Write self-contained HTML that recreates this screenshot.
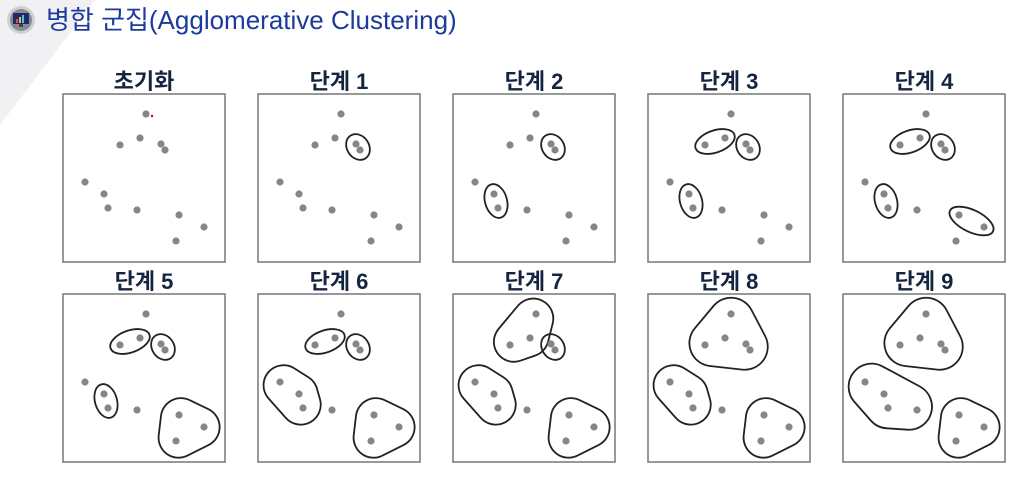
<!DOCTYPE html>
<html><head><meta charset="utf-8">
<style>
html,body{margin:0;padding:0;background:#fff;}
body{width:1016px;height:476px;overflow:hidden;position:relative;font-family:"Liberation Sans","Noto Sans CJK KR",sans-serif;}
</style></head>
<body>
<svg id="chart" width="1016" height="476" viewBox="0 0 1016 476" xmlns="http://www.w3.org/2000/svg">
  <polygon points="0,0 95,0 0,125" fill="#f1f1f3"/>
  <g>
    <circle cx="21" cy="20" r="14" fill="#cfcfd4"/>
    <circle cx="21" cy="20" r="11" fill="#8a8a93"/>
    <rect x="13" y="13" width="16" height="11" fill="#1e2a6a"/>
    <rect x="19" y="24" width="4" height="3" fill="#444"/>
    <rect x="16" y="19" width="2" height="4" fill="#e05050"/>
    <rect x="19" y="17" width="2" height="6" fill="#e0c040"/>
    <rect x="22" y="15" width="2" height="8" fill="#50c0e0"/>
  </g>
  <text x="46" y="29" font-size="26" fill="#1b3a9c" font-family="'Liberation Sans','Noto Sans CJK KR',sans-serif">병합 군집(Agglomerative Clustering)</text>
  <g id="panels"></g>
</svg>
<script>
const titles = ["초기화","단계 1","단계 2","단계 3","단계 4","단계 5","단계 6","단계 7","단계 8","단계 9"];
const pointsX = [83,77,57,98,102,22,41,45,74,116,141,113];
const pointsY = [20,44,51,50,56,88,100,114,116,121,133,147];
const stepClusters = [
  [],
  [[3,4]],
  [[3,4],[6,7]],
  [[3,4],[6,7],[1,2]],
  [[3,4],[6,7],[1,2],[9,10]],
  [[3,4],[6,7],[1,2],[9,10,11]],
  [[3,4],[5,6,7],[1,2],[9,10,11]],
  [[3,4],[5,6,7],[0,1,2],[9,10,11]],
  [[0,1,2,3,4],[5,6,7],[9,10,11]],
  [[0,1,2,3,4],[5,6,7,8],[9,10,11]]
];
const NS="http://www.w3.org/2000/svg";
const PW=162, PH=168, PITCH=195, X0=63, ROW_Y=[94,294];
function hull(pts){
  const p=pts.slice().sort((a,b)=>a[0]-b[0]||a[1]-b[1]);
  if(p.length<3) return p;
  const cr=(o,a,b)=>(a[0]-o[0])*(b[1]-o[1])-(a[1]-o[1])*(b[0]-o[0]);
  const lo=[],up=[];
  for(const q of p){while(lo.length>=2&&cr(lo[lo.length-2],lo[lo.length-1],q)<=0)lo.pop();lo.push(q);}
  for(let i=p.length-1;i>=0;i--){const q=p[i];while(up.length>=2&&cr(up[up.length-2],up[up.length-1],q)<=0)up.pop();up.push(q);}
  up.pop();lo.pop();return lo.concat(up);
}
function blobPath(pts,r){
  let h=hull(pts);
  let area=0;for(let i=0;i<h.length;i++){const a=h[i],b=h[(i+1)%h.length];area+=a[0]*b[1]-b[0]*a[1];}
  if(area<0)h.reverse();
  const n=h.length;const A=[],B=[];
  for(let i=0;i<n;i++){const a=h[i],b=h[(i+1)%n];const dx=b[0]-a[0],dy=b[1]-a[1];const L=Math.hypot(dx,dy)||1;const nx=dy/L,ny=-dx/L;
    A.push([a[0]+r*nx,a[1]+r*ny]);B.push([b[0]+r*nx,b[1]+r*ny]);}
  let d="M"+A[0][0].toFixed(1)+","+A[0][1].toFixed(1);
  for(let i=0;i<n;i++){d+=" L"+B[i][0].toFixed(1)+","+B[i][1].toFixed(1);const nx=A[(i+1)%n];d+=" A"+r+","+r+" 0 0 1 "+nx[0].toFixed(1)+","+nx[1].toFixed(1);}
  return d+"Z";
}
const root=document.getElementById('panels');
titles.forEach((t,k)=>{
  const px=X0+(k%5)*PITCH, py=ROW_Y[Math.floor(k/5)];
  const g=document.createElementNS(NS,'g');
  
  
  root.appendChild(g);
  const tx=document.createElementNS(NS,'text');
  
  
  tx.setAttribute('x',px+PW/2);tx.setAttribute('y',py-5);tx.setAttribute('text-anchor','middle');
  tx.setAttribute('font-size','22');tx.setAttribute('font-weight','bold');tx.setAttribute('fill','#15243f');
  tx.textContent=t;g.appendChild(tx);
  const rc=document.createElementNS(NS,'rect');
  
  
  rc.setAttribute('x',px);rc.setAttribute('y',py);rc.setAttribute('width',PW);rc.setAttribute('height',PH);
  rc.setAttribute('fill','#fff');rc.setAttribute('stroke','#777');rc.setAttribute('stroke-width','1.5');
  g.appendChild(rc);
  stepClusters[k].forEach(c=>{
    const pts=c.map(i=>[px+pointsX[i],py+pointsY[i]]);
    let el;
    if(c.length===2){
      const [a,b]=pts;const mx=(a[0]+b[0])/2,my=(a[1]+b[1])/2;
      const ang=Math.atan2(b[1]-a[1],b[0]-a[0])*180/Math.PI;
      const half=Math.hypot(b[0]-a[0],b[1]-a[1])/2;
      el=document.createElementNS(NS,'ellipse');
      el.setAttribute('cx',mx);el.setAttribute('cy',my);el.setAttribute('rx',half+10);el.setAttribute('ry',11);
      el.setAttribute('transform','rotate('+ang+' '+mx+' '+my+')');
    } else {
      const cx=pts.reduce((s,p)=>s+p[0],0)/pts.length, cy=pts.reduce((s,p)=>s+p[1],0)/pts.length;
      const s=c.length>=4?0.72:0.75, r=c.length>=4?23:20;
      const sp=pts.map(p=>[cx+(p[0]-cx)*s,cy+(p[1]-cy)*s]);
      el=document.createElementNS(NS,'path');
      el.setAttribute('d',blobPath(sp,r));
    }
    
    
    el.setAttribute('fill','none');el.setAttribute('stroke','#222');el.setAttribute('stroke-width','1.8');
    g.appendChild(el);
  });
  pointsX.forEach((x,i)=>{
    const c=document.createElementNS(NS,'circle');
    
    
    c.setAttribute('cx',px+x);c.setAttribute('cy',py+pointsY[i]);c.setAttribute('r','3.6');c.setAttribute('fill','#868686');
    g.appendChild(c);
  });
  if(k===0){
    const m=document.createElementNS(NS,'circle');
    
    
    m.setAttribute('cx',px+89);m.setAttribute('cy',py+22);m.setAttribute('r','1.2');m.setAttribute('fill','#c00');
    g.appendChild(m);
  }
});
</script>
</body></html>
